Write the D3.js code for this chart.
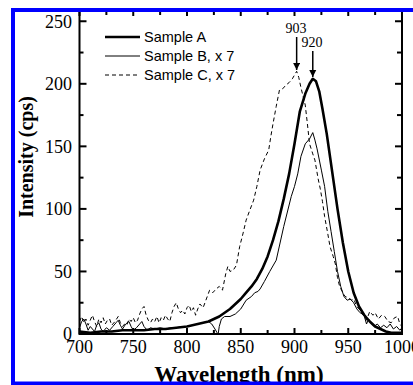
<!DOCTYPE html>
<html><head><meta charset="utf-8">
<script src="https://cdn.jsdelivr.net/npm/d3@7"></script>
<style>body{margin:0;background:#fff}svg{display:block}</style>
</head><body>
<script>
// ---- data ----
const aWl = [700,710,720,730,740,750,760,770,780,790,800,810,815,820,825,830,835,840,845,850,855,860,865,870,875,880,885,890,895,900,905,910,914,917,920,923,926,930,935,940,945,950,955,960,965,970,975,980,985,990,1000];
const aVal = [2,1,2,2,3,3,3,4,4,5,6,8,9,10,12,14,17,20,24,28,33,38,44,52,62,75,90,108,128,152,178,192,200,204,202,194,180,160,130,100,73,50,33,22,15,10,6,4,2,1,1];

const bWl = [700,702,704,706,708,710,712,714,716,718,720,722,725,728,731,734,736,738,740,743,746,748,750,753,756,758,760,763,766,770,775,780,785,790,795,800,805,810,815,820,823,826,828,829,830,832,835,840,845,850,855,860,863,866,868,872,877,883,890,897,900,903,906,910,914,917,919,921,925,928,931,934,937,940,943,946,949,952,955,958,961,963,965,967,969,971,974,977,980,983,986,989,992,995,998,1000];
const bVal = [5,10,12,8,3,6,4,2,7,9,4,2,5,3,6,9,11,7,4,8,10,6,3,5,8,10,6,3,5,4,5,4,5,5,6,6,7,8,9,10,8,4,1,0,6,12,14,14,16,20,27,30,33,34,36,42,50,59,86,110,118,128,142,152,156,161,155,148,131,118,98,82,66,50,38,30,27,28,25,20,17,16,14,8,12,9,6,8,5,7,5,8,4,6,3,5];

const cWl = [700,702,704,706,708,710,712,714,716,718,720,722,724,726,728,730,733,736,738,740,742,744,746,748,750,752,754,756,758,760,762,764,766,768,770,772,774,776,778,780,782,784,786,788,790,792,794,796,798,800,802,804,806,808,810,812,815,818,821,824,827,830,833,836,838,840,843,846,849,852,855,858,862,865,868,872,876,878,880,883,886,889,892,895,898,900,902,904,906,908,910,912,914,917,919,922,924,926,928,931,933,936,938,940,942,945,947,950,953,955,958,961,964,967,970,973,975,978,981,984,987,990,993,996,998,1000];
const cVal = [10,14,9,12,7,11,15,10,6,12,9,13,8,11,12,7,10,14,9,6,8,7,12,10,13,9,11,16,20,22,15,11,9,12,10,14,9,13,11,15,12,10,17,22,25,20,17,19,16,21,23,18,21,15,20,24,21,28,35,33,36,38,35,48,54,50,51,55,70,80,91,98,107,118,131,140,147,158,168,182,195,196,199,201,204,207,210,205,197,190,183,168,152,144,139,124,116,106,94,80,70,62,56,45,38,33,30,29,27,28,22,19,15,11,18,15,17,12,15,14,10,9,13,14,8,6];

const seriesNames = ["Sample A","Sample B, x 7","Sample C, x 7"];
const xTicks = [700,750,800,850,900,950,1000];
const xMinor = [725,775,825,875,925,975];
const yTicks = [0,50,100,150,200,250];
const yMinor = [25,75,125,175,225];
const peakLabels = ["903","920"];
const peakAt = [902,917];

// ---- layout ----
const W = 413, H = 385;
const svg = d3.select("body").append("svg").attr("width", W).attr("height", H);
const x = d3.scaleLinear().domain([700,1000]).range([79.5,402]);
const y = d3.scaleLinear().domain([0,259]).range([334,10]);
const serif = "'Liberation Serif','Times New Roman',serif";
const sans = "'Liberation Sans',Arial,sans-serif";

const gx = svg.append("g");
// curves
const line = d3.line().x(d=>x(d[0])).y(d=>y(d[1]));
const toPts = (w,v)=>w.map((d,i)=>[d,v[i]]);
const clip = svg.append("clipPath").attr("id","pc").append("rect")
  .attr("x",x(700)).attr("y",y(259)).attr("width",x(1000)-x(700)).attr("height",y(0)-y(259));
const curves = svg.append("g").attr("clip-path","url(#pc)");
curves.append("path").attr("d",line(toPts(cWl,cVal))).attr("fill","none").attr("stroke","#000").attr("stroke-width",1).attr("stroke-dasharray","4,3");
curves.append("path").attr("d",line(toPts(bWl,bVal))).attr("fill","none").attr("stroke","#000").attr("stroke-width",1);
curves.append("path").attr("d",line(toPts(aWl,aVal))).attr("fill","none").attr("stroke","#000").attr("stroke-width",2.6).attr("stroke-linejoin","round");

// axes
const ax = svg.append("g").attr("font-family",serif).attr("font-size",18).attr("fill","#000");
function frameTicks(){
  const g = svg.append("g").attr("stroke","#000").attr("stroke-width",2);
  xTicks.forEach(t=>{
    g.append("line").attr("x1",x(t)).attr("x2",x(t)).attr("y1",y(0)).attr("y2",y(0)-6);
    g.append("line").attr("x1",x(t)).attr("x2",x(t)).attr("y1",y(259)).attr("y2",y(259)+6);
  });
  xMinor.forEach(t=>{
    g.append("line").attr("x1",x(t)).attr("x2",x(t)).attr("y1",y(0)).attr("y2",y(0)-4);
    g.append("line").attr("x1",x(t)).attr("x2",x(t)).attr("y1",y(259)).attr("y2",y(259)+5);
  });
  yTicks.forEach(t=>{
    g.append("line").attr("x1",x(700)).attr("x2",x(700)+7).attr("y1",y(t)).attr("y2",y(t));
    g.append("line").attr("x1",x(1000)).attr("x2",x(1000)-7).attr("y1",y(t)).attr("y2",y(t));
  });
  yMinor.forEach(t=>{
    g.append("line").attr("x1",x(700)).attr("x2",x(700)+4).attr("y1",y(t)).attr("y2",y(t));
    g.append("line").attr("x1",x(1000)).attr("x2",x(1000)-5).attr("y1",y(t)).attr("y2",y(t));
  });
  g.append("rect").attr("x",x(700)).attr("y",y(259)).attr("width",x(1000)-x(700)).attr("height",y(0)-y(259)).attr("fill","none");
}
frameTicks();
xTicks.forEach(t=>{
  ax.append("text").attr("x",x(t)).attr("y",353).attr("text-anchor","middle").text(t);
});
yTicks.forEach(t=>{
  ax.append("text").attr("x",72).attr("y",y(t)).attr("dy","0.35em").attr("text-anchor","end").text(t);
});
svg.append("text").attr("x",239).attr("y",382).attr("text-anchor","middle")
  .attr("font-family",serif).attr("font-weight","bold").attr("font-size",23).text("Wavelength (nm)");
svg.append("text").attr("transform","translate(33,157) rotate(-90)").attr("text-anchor","middle")
  .attr("font-family",serif).attr("font-weight","bold").attr("font-size",20).text("Intensity (cps)");

// legend
const lg = svg.append("g");
const lgY = [37,56,75];
const lgW = [2.6,1,1];
const lgD = [null,null,"4,3"];
seriesNames.forEach((n,i)=>{
  const l = lg.append("line").attr("x1",105).attr("x2",140).attr("y1",lgY[i]).attr("y2",lgY[i])
    .attr("stroke","#000").attr("stroke-width",lgW[i]);
  if(lgD[i]) l.attr("stroke-dasharray",lgD[i]);
  lg.append("text").attr("x",144).attr("y",lgY[i]).attr("dy","0.35em")
    .attr("font-family",sans).attr("font-size",14.5).text(n);
});

// peak annotations
const defs = svg.append("defs");
defs.append("marker").attr("id","ah").attr("viewBox","0 0 10 10").attr("refX",10).attr("refY",5)
  .attr("markerWidth",5).attr("markerHeight",5).attr("orient","auto")
  .append("path").attr("d","M0,0L10,5L0,10z").attr("fill","#000");
const annTop = [37,51];
const annBot = [70,77];
const annTy = [33,47];
const annTx = [296,312];
peakLabels.forEach((p,i)=>{
  svg.append("line").attr("x1",x(peakAt[i])).attr("x2",x(peakAt[i])).attr("y1",annTop[i]).attr("y2",annBot[i])
    .attr("stroke","#000").attr("stroke-width",1.5).attr("marker-end","url(#ah)");
  svg.append("text").attr("x",annTx[i]).attr("y",annTy[i]).attr("text-anchor","middle")
    .attr("font-family",serif).attr("font-size",14).text(p);
});

// blue frame
svg.append("rect").attr("x",13).attr("y",10).attr("width",440).attr("height",373.5)
  .attr("fill","none").attr("stroke","#0000ff").attr("stroke-width",4);
</script>
</body></html>
